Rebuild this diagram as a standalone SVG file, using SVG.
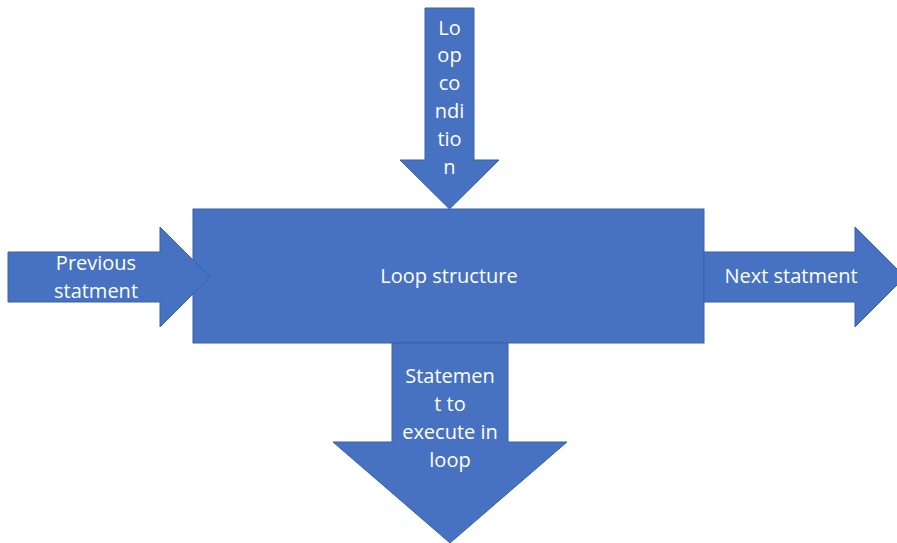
<svg xmlns="http://www.w3.org/2000/svg" width="897" height="543" viewBox="0 0 897 543">
  <style>
    .shape { fill: #4672c1; stroke: #3a60a8; stroke-width: 1; }
    .label { fill: #ffffff; font-family: "Open Sans", "Liberation Sans", sans-serif; font-size: 20px; text-anchor: middle; }
  </style>
  <rect width="897" height="543" fill="#ffffff"/>

  <!-- central block -->
  <g id="loop-structure">
    <rect class="shape" x="193" y="209" width="511" height="134"/>
    <text class="label" x="449" y="283">Loop structure</text>
  </g>

  <g id="connectors">
    <!-- loop condition arrow (down, into the loop block) -->
    <g id="loop-condition">
      <polygon class="shape" points="425,8 474,8 474,160 499,160 449.5,209 400,160 425,160"/>
      <text class="label" x="449.5" y="35">Lo</text>
      <text class="label" x="449.5" y="62">op</text>
      <text class="label" x="449.5" y="90">co</text>
      <text class="label" x="449.5" y="118">ndi</text>
      <text class="label" x="449.5" y="146">tio</text>
      <text class="label" x="449.5" y="174">n</text>
    </g>

    <!-- previous statement arrow (tip overlaps the block) -->
    <g id="previous-statement">
      <polygon class="shape" points="8,252 160,252 160,227 210,277 160,327 160,302 8,302"/>
      <text class="label" x="96" y="270">Previous</text>
      <text class="label" x="96" y="298">statment</text>
    </g>

    <!-- next statement arrow (out of the block to the right) -->
    <g id="next-statement">
      <polygon class="shape" points="704,252 855,252 855,227 905,277 855,327 855,302 704,302"/>
      <text class="label" x="791" y="283">Next statment</text>
    </g>

    <!-- loop body arrow (down, out of the block) -->
    <g id="loop-body">
      <polygon class="shape" points="392,343 508,343 508,442 567,442 450,543 333,442 392,442"/>
      <text class="label" x="450" y="383">Statemen</text>
      <text class="label" x="450" y="411">t to</text>
      <text class="label" x="450" y="439">execute in</text>
      <text class="label" x="450" y="467">loop</text>
    </g>
  </g>
</svg>
